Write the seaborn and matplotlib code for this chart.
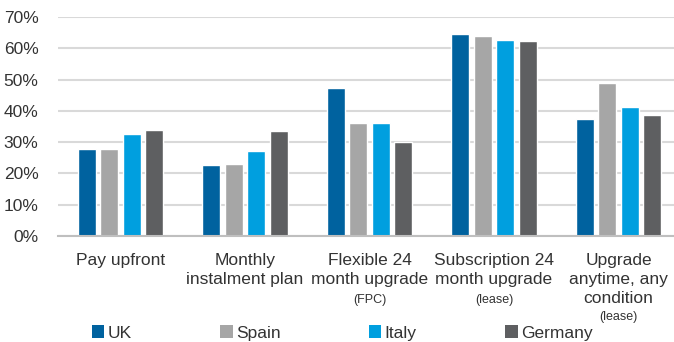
import matplotlib
matplotlib.use("Agg")
import matplotlib.pyplot as plt
import matplotlib.transforms as mtransforms
from matplotlib.patches import Patch
import seaborn as sns
import pandas as pd

categories = ["Pay upfront", "Monthly\ninstalment plan", "Flexible 24\nmonth upgrade",
              "Subscription 24\nmonth upgrade", "Upgrade\nanytime, any\ncondition"]
sub_notes = ["", "", "(FPC)", "(lease)", "(lease)"]
countries = ["UK", "Spain", "Italy", "Germany"]
uk = [27.7, 22.6, 47.3, 64.7, 37.4]
spain = [27.7, 22.9, 36.0, 63.9, 49.0]
italy = [32.5, 27.2, 36.0, 62.6, 41.3]
germany = [33.9, 33.5, 29.9, 62.3, 38.6]
yticks = [0, 10, 20, 30, 40, 50, 60, 70]

colors = ["#00629F", "#A6A6A6", "#009FDF", "#5E5F61"]

rows = []
for c, vals in zip(countries, [uk, spain, italy, germany]):
    for cat, v in zip(categories, vals):
        rows.append({"category": cat, "country": c, "value": v})
df = pd.DataFrame(rows)

sns.set_style("white")
plt.rcParams["font.family"] = ["Liberation Sans", "DejaVu Sans"]
text_color = "#333333"

fig = plt.figure(figsize=(6.74, 3.42), dpi=100)
ax = fig.add_axes([58 / 674, 1 - 236 / 342, 1 - 58 / 674, (236 - 17) / 342])
sns.barplot(data=df, x="category", y="value", hue="country", order=categories,
            hue_order=countries, palette=colors, width=0.72, gap=0.2,
            saturation=1, ax=ax, legend=False, errorbar=None)

ax.set_ylim(0, 70)
ax.set_xlim(-0.502, 4.446)
ax.set_yticks(yticks)
ax.set_yticklabels([f"{t}%" for t in yticks], fontsize=12.5, color=text_color)
ax.yaxis.grid(True, color="#D9D9D9", linewidth=1.5)
ax.set_axisbelow(True)
ax.set_xlabel("")
ax.set_ylabel("")
for s in ["top", "right", "left"]:
    ax.spines[s].set_visible(False)
ax.spines["bottom"].set_color("#BFBFBF")
ax.spines["bottom"].set_linewidth(1.5)
ax.tick_params(axis="both", length=0)
ax.tick_params(axis="y", pad=14)
ax.set_xticks(range(len(categories)))
ax.set_xticklabels(categories, fontsize=12.5, color=text_color, linespacing=1.33,
                   va="top")
ax.tick_params(axis="x", pad=12)

trans = mtransforms.blended_transform_factory(ax.transData, fig.transFigure)
for i, (cat, note) in enumerate(zip(categories, sub_notes)):
    if note:
        nlines = cat.count("\n") + 1
        ypix = 300 if nlines == 2 else 317
        ax.text(i, 1 - ypix / 342, note, transform=trans, ha="center", va="center",
                fontsize=9, color=text_color)

handles = [Patch(facecolor=c, edgecolor="none") for c in colors]
fig.legend(handles, countries, loc="center", bbox_to_anchor=(0.508, 1 - 333 / 342),
           ncol=4, frameon=False, fontsize=12.5, handlelength=0.7, handleheight=0.7,
           handletextpad=0.2, columnspacing=5.1, labelcolor=text_color)

fig.savefig("out.png", dpi=100)
